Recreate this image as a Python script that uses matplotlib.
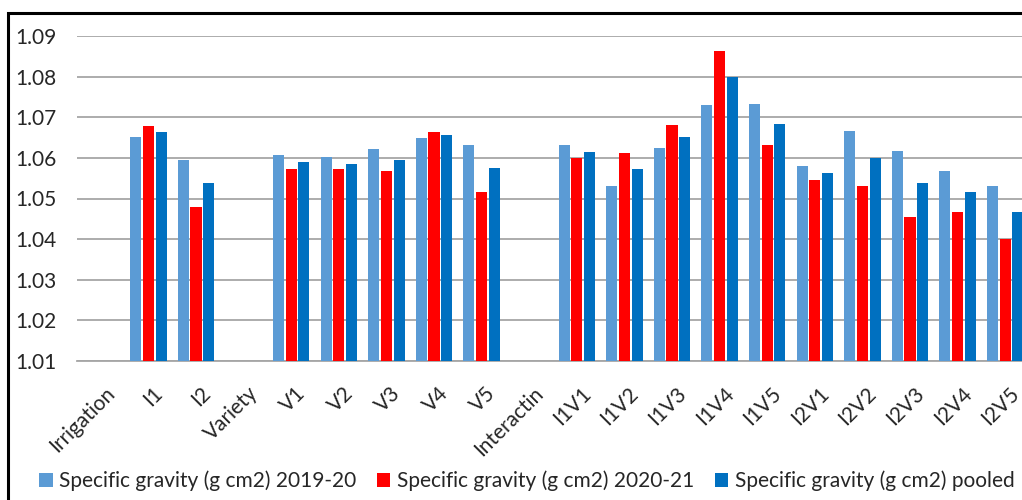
import numpy as np
import matplotlib
matplotlib.use("Agg")
import matplotlib.pyplot as plt
from matplotlib.patches import Rectangle
from matplotlib.transforms import ScaledTranslation

categories = ["Irrigation", "I1", "I2", "Variety", "V1", "V2", "V3", "V4", "V5",
              "Interactin", "I1V1", "I1V2", "I1V3", "I1V4", "I1V5",
              "I2V1", "I2V2", "I2V3", "I2V4", "I2V5"]
nan = np.nan
sg_2019 = [nan, 1.0651, 1.0594, nan, 1.0607, 1.0601, 1.0621, 1.0649, 1.0632,
           nan, 1.0632, 1.0532, 1.0624, 1.0729, 1.0732,
           1.0581, 1.0667, 1.0618, 1.0567, 1.0532]
sg_2020 = [nan, 1.0678, 1.0480, nan, 1.0572, 1.0572, 1.0567, 1.0664, 1.0515,
           nan, 1.0600, 1.0613, 1.0681, 1.0862, 1.0632,
           1.0545, 1.0532, 1.0454, 1.0467, 1.0400]
sg_pooled = [nan, 1.0664, 1.0537, nan, 1.0589, 1.0586, 1.0594, 1.0656, 1.0574,
             nan, 1.0615, 1.0572, 1.0651, 1.0798, 1.0683,
             1.0564, 1.0600, 1.0537, 1.0515, 1.0467]
series_labels = ["Specific gravity (g cm2) 2019-20",
                 "Specific gravity (g cm2) 2020-21",
                 "Specific gravity (g cm2) pooled"]
colors = ["#5B9BD5", "#FF0000", "#0070C0"]
yticks = [1.01, 1.02, 1.03, 1.04, 1.05, 1.06, 1.07, 1.08, 1.09]

plt.rcParams['font.family'] = ['Lato', 'DejaVu Sans']

W, H = 1022, 500
fig = plt.figure(figsize=(W / 100, H / 100), dpi=100)
ax = fig.add_axes([77 / W, (H - 361) / H, 952 / W, 325 / H])

x = np.arange(len(categories))
slot = 0.266
bw = 0.232
handles = []
for i, (vals, col, lab) in enumerate(zip([sg_2019, sg_2020, sg_pooled], colors, series_labels)):
    v = np.array(vals, dtype=float)
    h = ax.bar(x + (i - 1) * slot, v - 1.01, bottom=1.01, width=bw, color=col,
               label=lab, zorder=3)
    handles.append(h)

ax.set_xlim(-0.5, len(categories) - 0.5)
ax.set_ylim(1.01, 1.09)
ax.set_yticks(yticks)
ax.set_yticklabels([f"{t:.2f}" for t in yticks], fontsize=15, color="#262626")
ax.yaxis.grid(True, color="#a6a6a6", linewidth=1.3, zorder=0)
ax.tick_params(axis="y", length=0, pad=15)
ax.tick_params(axis="x", length=0, pad=16)
ax.set_xticks(x)
ax.set_xticklabels(categories, rotation=45, ha="right", va="top",
                   rotation_mode="anchor", fontsize=15, color="#262626")
offset = ScaledTranslation(4 / 100, 0, fig.dpi_scale_trans)
for lbl in ax.get_xticklabels():
    lbl.set_transform(lbl.get_transform() + offset)
for s in ["left", "right", "top"]:
    ax.spines[s].set_visible(False)
ax.spines["bottom"].set_color("#a6a6a6")
ax.spines["bottom"].set_linewidth(1.3)

# outer chart border
fig.patches.append(Rectangle((8 / W, -0.1), 1.2, 1 - 13 / H + 0.1, transform=fig.transFigure,
                             fill=False, edgecolor="black", linewidth=2.2, zorder=10))

leg = fig.legend(handles=handles, labels=series_labels, loc="center left",
                 bbox_to_anchor=(39 / W, 1 - 481 / H), ncol=3, frameon=False,
                 fontsize=15, handlelength=0.65, handleheight=0.65,
                 handletextpad=0.3, columnspacing=1.0, borderaxespad=0, borderpad=0)
for t in leg.get_texts():
    t.set_color("#262626")

fig.savefig("out.png", dpi=100)
